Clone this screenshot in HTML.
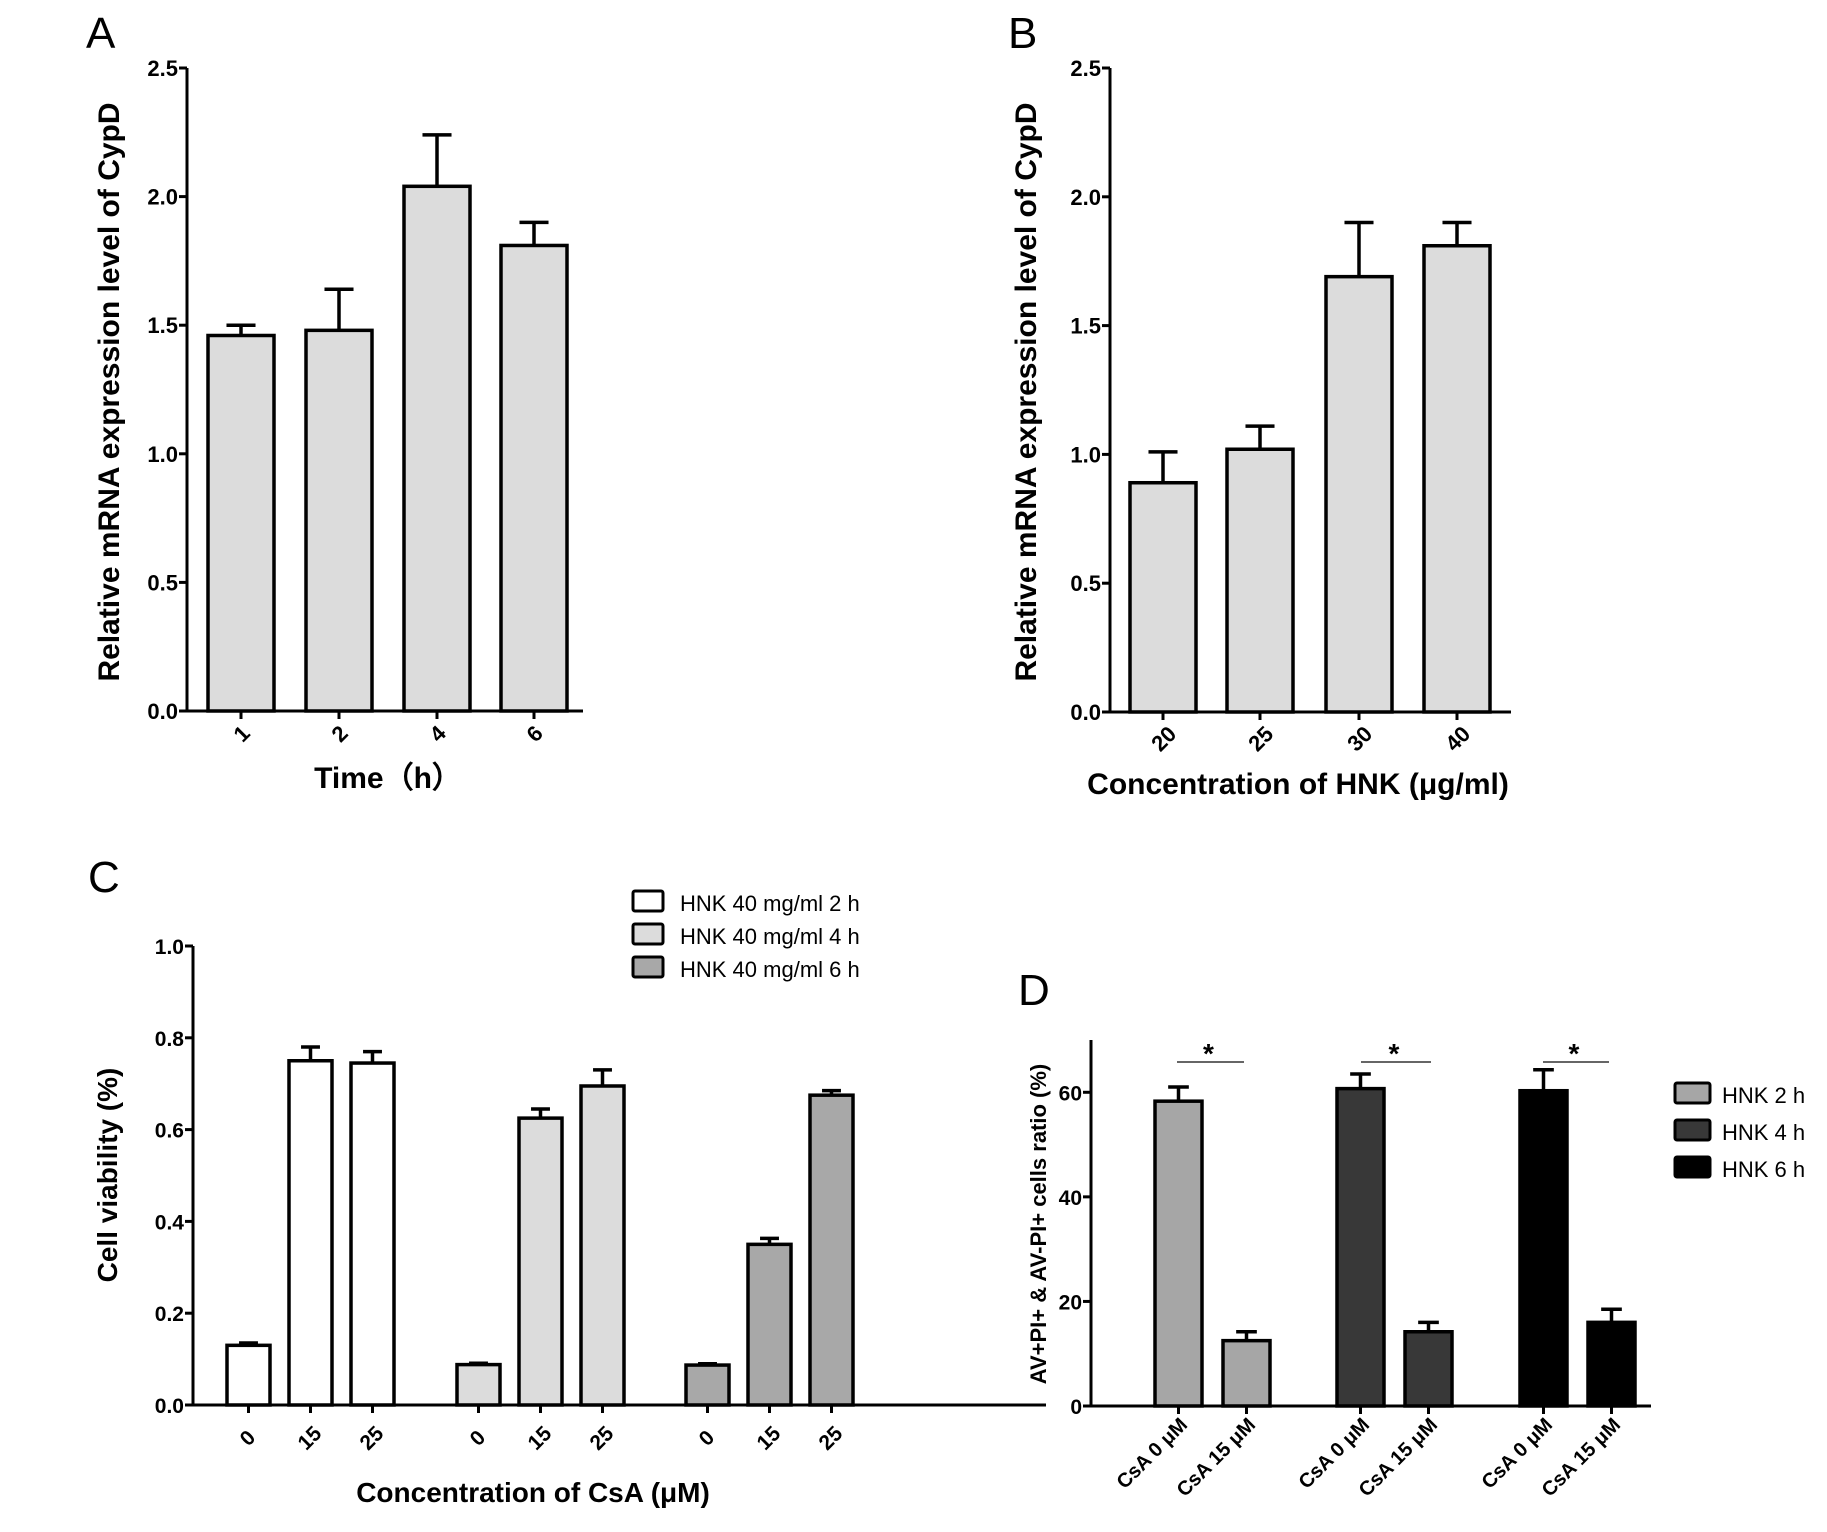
<!DOCTYPE html>
<html><head><meta charset="utf-8"><style>
body{margin:0;background:#fff}
svg{display:block;font-family:"Liberation Sans",sans-serif}
</style></head><body>
<svg id="fig" width="1827" height="1532" viewBox="0 0 1827 1532" xmlns="http://www.w3.org/2000/svg"></svg>
<script>
// Panel A data
const aCats=["1","2","4","6"];
const aVals=[1.46,1.48,2.04,1.81];
const aErr=[0.04,0.16,0.20,0.09];
const abTicks=["0.0","0.5","1.0","1.5","2.0","2.5"];
// Panel B data
const bCats=["20","25","30","40"];
const bVals=[0.89,1.02,1.69,1.81];
const bErr=[0.12,0.09,0.21,0.09];
// Panel C data
const cCats=["0","15","25","0","15","25","0","15","25"];
const cVals=[0.13,0.75,0.745,0.088,0.625,0.695,0.087,0.35,0.675];
const cErr=[0.005,0.03,0.025,0.003,0.02,0.035,0.003,0.013,0.01];
const cTicks=["0.0","0.2","0.4","0.6","0.8","1.0"];
const cLegend=["HNK 40 mg/ml 2 h","HNK 40 mg/ml 4 h","HNK 40 mg/ml 6 h"];
// Panel D data
const dCats=["CsA 0 μM","CsA 15 μM","CsA 0 μM","CsA 15 μM","CsA 0 μM","CsA 15 μM"];
const dVals=[58.3,12.5,60.7,14.2,60.3,16];
const dErr=[2.7,1.7,2.8,1.8,4,2.5];
const dTicks=["0","20","40","60"];
const dLegend=["HNK 2 h","HNK 4 h","HNK 6 h"];

const svg=document.getElementById('fig');
const NS="http://www.w3.org/2000/svg";
function el(tag,attrs,parent,text){const e=document.createElementNS(NS,tag);for(const k in attrs)e.setAttribute(k,attrs[k]);if(text!==undefined)e.textContent=text;(parent||svg).appendChild(e);return e;}

function panel(o){
  const g=el('g',{},svg);
  
  
  const y=v=>o.y0-(v/o.max)*(o.y0-o.ytop);
  const ya=el('line',{x1:o.ax,y1:o.ytop,x2:o.ax,y2:o.y0+1.5,stroke:'#000','stroke-width':3},g);
  
  const xa=el('line',{x1:o.ax-1.5,y1:o.y0,x2:o.xend,y2:o.y0,stroke:'#000','stroke-width':3},g);
  
  o.ticks.forEach(t=>{
    const v=parseFloat(t),yy=y(v);
    el('line',{x1:o.ax-8,y1:yy,x2:o.ax,y2:yy,stroke:'#000','stroke-width':3},g);
    const tl=el('text',{x:o.ax-9,y:yy+8,'text-anchor':'end','font-size':o.tfs,'font-weight':'bold'},g,t);
    
  });
  o.vals.forEach((v,i)=>{
    const left=o.lefts[i],w=o.bw,cx=left+w/2,top=y(v),et=y(v+o.err[i]);
    const fill=o.fills[Math.floor(i/o.groupSize)];
    el('line',{x1:cx,y1:top,x2:cx,y2:et,stroke:'#000','stroke-width':3.5},g);
    el('line',{x1:cx-w*0.22,y1:et,x2:cx+w*0.22,y2:et,stroke:'#000','stroke-width':3.5},g);
    const r=el('rect',{x:left,y:top,width:w,height:o.y0-top,fill:fill,stroke:'#000','stroke-width':3.5},g);
    
    
    el('line',{x1:cx,y1:o.y0,x2:cx,y2:o.y0+8,stroke:'#000','stroke-width':3},g);
    const lx=cx+o.lblDx,ly=o.y0+o.lblDy;
    const tl=el('text',{x:lx,y:ly,'text-anchor':o.lblAnchor,'font-size':o.xfs,'font-weight':'bold',transform:`rotate(-45 ${lx} ${ly})`},g,o.cats[i]);
    
  });
  const yt=el('text',{x:o.ytx,y:o.yty,'text-anchor':'middle','font-size':o.ytfs,'font-weight':'bold',transform:`rotate(-90 ${o.ytx} ${o.yty})`},g,o.ytitle);
  
  if(o.xtitle){const xt=el('text',{x:o.xtx,y:o.xty,'text-anchor':'middle','font-size':o.xtfs,'font-weight':'bold'},g,o.xtitle);
  }
  const pl=el('text',{x:o.px,y:o.py,'font-size':44},g,o.letter);
  
  return {g,y};
}

const ytA="Relative mRNA expression level of CypD";
panel({name:'panel-a',letter:'A',px:86,py:48,ax:187,y0:711,ytop:68,xend:583,max:2.5,ticks:abTicks,tfs:22,
  vals:aVals,err:aErr,cats:aCats,lefts:[208,306,404,501],bw:66,fills:['#dcdcdc'],groupSize:4,
  lblDx:6,lblDy:28,lblAnchor:'middle',xfs:22,ytitle:ytA,ytx:119,yty:392,ytfs:30,
  xtitle:'Time（h）',xtx:388,xty:788,xtfs:30});
panel({name:'panel-b',letter:'B',px:1008,py:48,ax:1110,y0:712,ytop:68,xend:1511,max:2.5,ticks:abTicks,tfs:22,
  vals:bVals,err:bErr,cats:bCats,lefts:[1130,1227,1326,1424],bw:66,fills:['#dcdcdc'],groupSize:4,
  lblDx:6,lblDy:32,lblAnchor:'middle',xfs:22,ytitle:ytA,ytx:1036,yty:392,ytfs:30,
  xtitle:'Concentration of HNK (μg/ml)',xtx:1298,xty:794,xtfs:30});
panel({name:'panel-c',letter:'C',px:88,py:892,ax:193,y0:1405,ytop:946,xend:1046,max:1.0,ticks:cTicks,tfs:21,
  vals:cVals,err:cErr,cats:cCats,lefts:[227,289,351,457,519,581,686,748,810],bw:43,fills:['#ffffff','#dcdcdc','#a8a8a8'],groupSize:3,
  lblDx:4,lblDy:38,lblAnchor:'middle',xfs:21,ytitle:'Cell viability (%)',ytx:117,yty:1175,ytfs:28,
  xtitle:'Concentration of CsA (μM)',xtx:533,xty:1502,xtfs:28});
const D=panel({name:'panel-d',letter:'D',px:1018,py:1005,ax:1091,y0:1406,ytop:1040,xend:1651,max:70,ticks:dTicks,tfs:21,
  vals:dVals,err:dErr,cats:dCats,lefts:[1155,1223,1337,1405,1520,1588],bw:47,fills:['#a6a6a6','#383838','#000000'],groupSize:2,
  lblDx:10,lblDy:20,lblAnchor:'end',xfs:20,ytitle:'AV+PI+ & AV-PI+ cells ratio (%)',ytx:1046,yty:1224,ytfs:22});

[[1177,1244],[1361,1431],[1543,1609]].forEach(p=>{
  const l=el('line',{x1:p[0],y1:1062,x2:p[1],y2:1062,stroke:'#333','stroke-width':1.5},D.g);
  
  const s=el('text',{x:(p[0]+p[1])/2-2,y:1063,'text-anchor':'middle','font-size':28,'font-weight':'bold'},D.g,'*');
  
});

function legend(items,fills,bx,by0,dy,bw,bh,tx,fs,name){
  const g=el('g',{},svg);
  
  
  items.forEach((t,i)=>{
    const r=el('rect',{x:bx,y:by0+i*dy,width:bw,height:bh,fill:fills[i],stroke:'#000','stroke-width':3,rx:2},g);
    
    const tt=el('text',{x:tx,y:by0+i*dy+bh,'font-size':fs},g,t);
    
  });
}
legend(cLegend,['#ffffff','#dcdcdc','#a8a8a8'],633,891,33,30,20,680,22,'legend-c');
legend(dLegend,['#a6a6a6','#383838','#000000'],1675,1083,37,35,20,1722,22,'legend-d');
</script>
</body></html>
